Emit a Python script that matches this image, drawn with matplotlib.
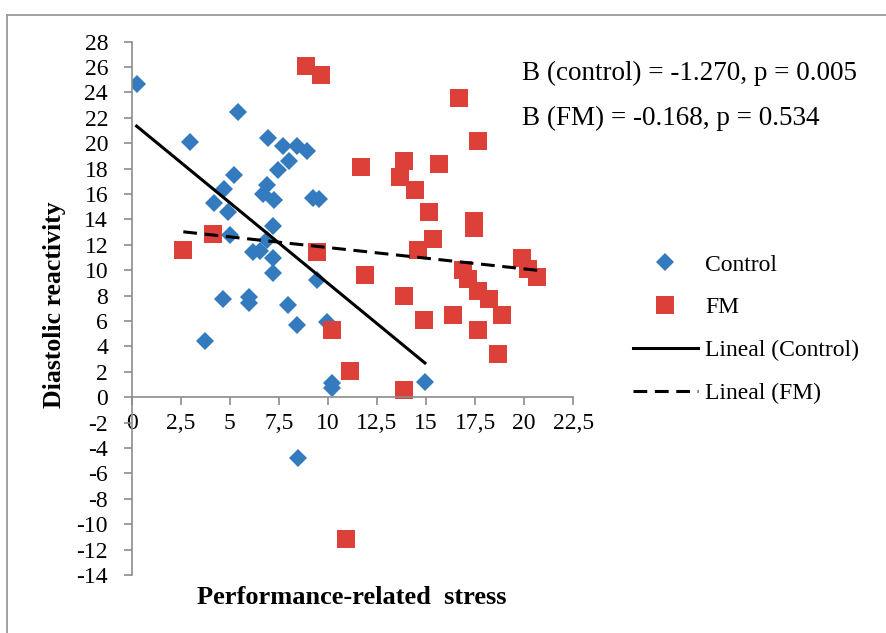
import matplotlib.pyplot as plt
from matplotlib.lines import Line2D
import numpy as np

# Datos
control_x = [0.25, 5.43, 2.97, 6.93, 7.69, 8.44, 8.95, 8.01, 7.47, 5.23, 4.72, 6.88,
             6.71, 7.27, 4.19, 9.25, 9.56, 4.92, 7.18, 5.01, 6.88, 6.19, 6.54, 7.18,
             7.18, 9.42, 4.67, 5.99, 5.99, 7.98, 8.44, 3.73, 9.93, 10.22, 10.22, 14.94, 8.46]
control_y = [24.7, 22.5, 20.1, 20.4, 19.8, 19.8, 19.4, 18.6, 17.9, 17.5, 16.4, 16.7,
             16.0, 15.5, 15.3, 15.7, 15.6, 14.6, 13.5, 12.8, 12.4, 11.4, 11.5, 11.0,
             9.8, 9.2, 7.7, 7.9, 7.4, 7.3, 5.7, 4.4, 5.9, 1.1, 0.7, 1.2, -4.8]

fm_x = [8.88, 9.63, 16.69, 17.62, 11.68, 13.87, 15.64, 13.67, 14.43, 15.16, 17.45, 17.45,
        15.37, 14.6, 9.42, 11.88, 19.87, 20.2, 20.66, 16.89, 17.15, 17.62, 18.2, 18.85,
        13.87, 16.38, 14.89, 10.19, 17.62, 18.68, 11.12, 13.87, 2.63, 4.16, 10.94]
fm_y = [26.1, 25.4, 23.6, 20.2, 18.1, 18.6, 18.35, 17.35, 16.3, 14.55, 13.9, 13.3,
        12.5, 11.6, 11.45, 9.6, 11.0, 10.1, 9.5, 10.0, 9.3, 8.4, 7.75, 6.45,
        8.0, 6.5, 6.05, 5.3, 5.3, 3.4, 2.1, 0.6, 11.6, 12.85, -11.2]

# Coeficientes de las rectas de regresion
control_slope, control_intercept = -1.270, 21.67
fm_slope, fm_intercept = -0.168, 13.47

x_ticks = [0, 2.5, 5, 7.5, 10, 12.5, 15, 17.5, 20, 22.5]
x_tick_labels = ["0", "2,5", "5", "7,5", "10", "12,5", "15", "17,5", "20", "22,5"]
y_ticks = list(range(-14, 29, 2))

plt.rcParams["font.family"] = ["Liberation Serif", "DejaVu Serif"]
plt.rcParams["axes.unicode_minus"] = False

blue = "#337ABF"
red = "#DC4039"

fig = plt.figure(figsize=(8.86, 6.33), dpi=100)
ax = fig.add_axes([131.7 / 886, 1 - 575 / 633, (573.3 - 131.7) / 886, (575 - 41.7) / 633])

ax.plot(control_x, control_y, linestyle="none", marker="D", ms=9.5, color=blue,
        markeredgewidth=0, label="Control")
ax.plot(fm_x, fm_y, linestyle="none", marker="s", ms=12.5, color=red,
        markeredgewidth=0, label="FM")

cx = np.array([min(control_x), max(control_x)])
ax.plot(cx, control_intercept + control_slope * cx, color="black", lw=2.2,
        label="Lineal (Control)")
fx = np.array([min(fm_x), max(fm_x)])
ax.plot(fx, fm_intercept + fm_slope * fx, color="black", lw=2.2, dashes=[4.5, 2.5],
        label="Lineal (FM)")

ax.set_xlim(0, 22.5)
ax.set_ylim(-14, 28)
ax.set_xticks(x_ticks)
ax.set_xticklabels(x_tick_labels)
ax.set_yticks(y_ticks)

for s in ["top", "right"]:
    ax.spines[s].set_visible(False)
ax.spines["bottom"].set_position(("data", 0))
for s in ["left", "bottom"]:
    ax.spines[s].set_color("#8c8c8c")
    ax.spines[s].set_linewidth(1.2)
ax.tick_params(axis="both", colors="#8c8c8c", labelcolor="black", labelsize=17,
               length=6, width=1.2, direction="out")
ax.tick_params(axis="y", pad=11)
ax.tick_params(axis="x", pad=5)

ax.text(521.7 / 886, 1 - 73 / 633, "B (control) = -1.270, p = 0.005", fontsize=19.5,
        transform=fig.transFigure, va="center", ha="left")
ax.text(521.7 / 886, 1 - 118 / 633, "B (FM) = -0.168, p = 0.534", fontsize=19.5,
        transform=fig.transFigure, va="center", ha="left")

fig.text(352 / 886, 1 - 597 / 633, "Performance-related  stress", fontsize=19,
         fontweight="bold", ha="center", va="center")
fig.text(55 / 886, 1 - 305 / 633, "Diastolic reactivity", fontsize=18.5,
         fontweight="bold", ha="center", va="center", rotation=90)

ax.legend(loc="upper left", bbox_to_anchor=(633 / 886, 1 - 254 / 633),
          bbox_transform=fig.transFigure, frameon=False, fontsize=17, borderpad=0,
          handlelength=2.75, handletextpad=0.3, labelspacing=0.9, borderaxespad=0)

# Marco exterior del grafico
fig.add_artist(Line2D([7 / 886, 7 / 886], [0, 1 - 15 / 633], color="#9a9a9a", lw=1.3,
                      transform=fig.transFigure))
fig.add_artist(Line2D([7 / 886, 1], [1 - 15 / 633, 1 - 15 / 633], color="#9a9a9a", lw=1.3,
                      transform=fig.transFigure))

fig.savefig("out.png", dpi=100)
